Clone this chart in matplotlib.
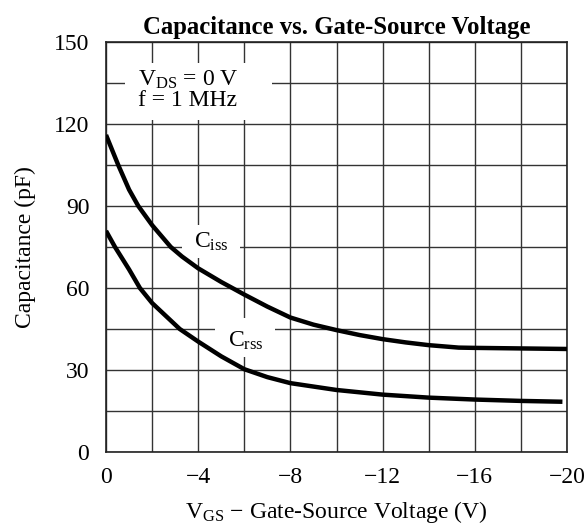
import numpy as np
import matplotlib
matplotlib.use("Agg")
import matplotlib.pyplot as plt
from matplotlib.ticker import MultipleLocator
from matplotlib.patches import Rectangle

plt.rcParams['font.family'] = ['Liberation Serif', 'DejaVu Serif']
plt.rcParams['mathtext.fontset'] = 'custom'
plt.rcParams['mathtext.rm'] = 'Liberation Serif'
plt.rcParams['mathtext.it'] = 'Liberation Serif:italic'

# values
vgs_iss = [0, -0.53, -1, -1.4, -2, -2.81, -3.3, -4, -5, -5.48, -6, -7, -8, -9,
           -10, -11, -12, -13, -14, -15.3, -16, -18, -20]
c_iss = [116, 105, 96, 90, 83, 75, 71.5, 67.2, 62.2, 60, 57.6, 53.2, 49.2, 46.6,
         44.6, 42.8, 41.3, 40.1, 39.1, 38.2, 38.1, 37.9, 37.7]

vgs_rss = [0, -0.39, -1, -1.47, -2, -3.2, -4, -5, -6, -7, -8, -10, -12, -14,
           -16, -18, -19.8]
c_rss = [80.9, 75, 66.8, 60, 54.5, 45, 40.4, 35.0, 30.3, 27.4, 25.2, 22.7, 21.0,
         19.9, 19.2, 18.7, 18.4]

x_ticks = [0, -4, -8, -12, -16, -20]
y_ticks = [0, 30, 60, 90, 120, 150]

fs = 17

fig = plt.figure(figsize=(5.87, 5.29), dpi=100)
ax = fig.add_axes([0.1806, 0.1455, 0.7854, 0.7751])

ax.plot(vgs_iss, c_iss, color='black', linewidth=3.2, solid_capstyle='butt',
        solid_joinstyle='round', zorder=5)
ax.plot(vgs_rss, c_rss, color='black', linewidth=3.2, solid_capstyle='butt',
        solid_joinstyle='round', zorder=5)

ax.set_xlim(0, -20)
ax.set_ylim(0, 150)
ax.set_xticks(x_ticks)
ax.set_xticklabels(['%d' % x if x == 0 else '\u2212%d' % -x for x in x_ticks])
ax.set_yticks(y_ticks)
ax.xaxis.set_minor_locator(MultipleLocator(2))
ax.yaxis.set_minor_locator(MultipleLocator(15))
ax.grid(True, which='both', color='#333333', linewidth=1.0)
ax.set_axisbelow(True)
ax.tick_params(which='both', length=0, labelsize=fs)
ax.tick_params(axis='x', pad=11)
ax.tick_params(axis='y', pad=12)
for s in ax.spines.values():
    s.set_linewidth(1.2)
    s.set_color('#222222')

ax.set_title('Capacitance vs. Gate-Source Voltage', fontsize=17.8,
             fontweight='bold', pad=6)
ax.set_xlabel(r'$\mathrm{V_{GS}}$ $-$ Gate-Source Voltage (V)', fontsize=fs, labelpad=8)
ax.set_ylabel('Capacitance (pF)', fontsize=fs, labelpad=13)

# white patches that break the grid behind the labels
for x0, x1, y0, y1 in [(-0.82, -7.2, 121.5, 142.3),
                       (-3.3, -5.81, 71.0, 83.1),
                       (-4.73, -7.33, 34.8, 49.0)]:
    ax.add_patch(Rectangle((x0, y0), x1 - x0, y1 - y0, facecolor='white',
                           edgecolor='none', zorder=2))

ax.text(-1.39, 132.6, r'$\mathrm{V_{DS}}$ = 0 V' + '\nf = 1 MHz', fontsize=fs,
        va='center', ha='left', linespacing=0.95, zorder=6)
ax.text(-4.56, 74.6, r'$\mathrm{C_{iss}}$', fontsize=fs, ha='center',
        va='baseline', zorder=6)
ax.text(-6.05, 38.5, r'$\mathrm{C_{rss}}$', fontsize=fs, ha='center',
        va='baseline', zorder=6)

plt.savefig('out.png', dpi=100)
